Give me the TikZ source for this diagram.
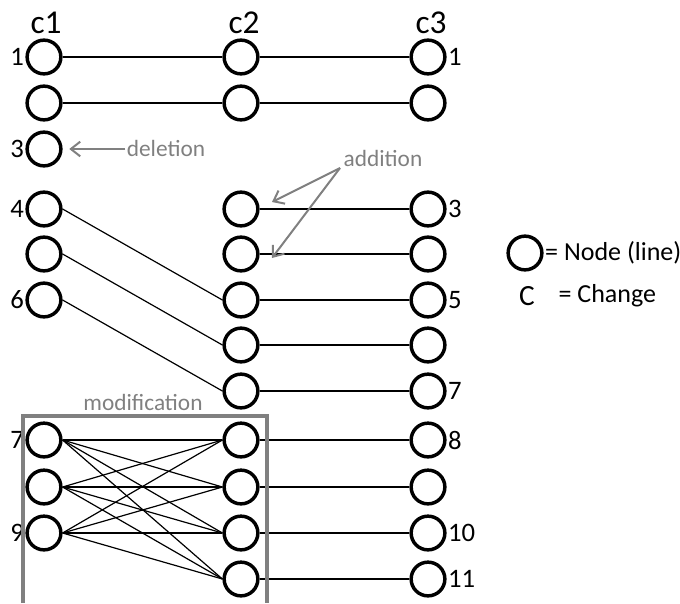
\documentclass[tikz,border=0pt]{standalone}
\usepackage{fontspec}
\setmainfont{Carlito}
\usetikzlibrary{arrows.meta}
\definecolor{mygray}{RGB}{128,128,128}
\tikzset{>={Straight Barb[length=7pt,width=11pt,line width=1.5pt]}}
\tikzset{ln/.style={draw, circle, line width=2.6pt, minimum size=25.3pt, inner sep=0pt}}
\tikzset{lab/.style={inner sep=1pt, font=\fontsize{20}{20}\selectfont}}
\tikzset{note/.style={mygray, inner sep=1pt, font=\fontsize{17.5}{17.5}\selectfont}}

\begin{document}
\begin{tikzpicture}[x=0.75pt, y=-0.75pt]
\useasboundingbox (0,0) rectangle (680,603);

% column c1
\node[ln] (a1) at (44,57) {};
\node[ln] (a2) at (44,103) {};
\node[ln] (a3) at (44,149) {};
\node[ln] (a4) at (44,209) {};
\node[ln] (a5) at (44,254) {};
\node[ln] (a6) at (44,300) {};
\node[ln] (a7) at (44,440) {};
\node[ln] (a8) at (44,487) {};
\node[ln] (a9) at (44,533) {};

% column c2
\node[ln] (b1) at (241,57) {};
\node[ln] (b2) at (241,103) {};
\node[ln] (b3) at (241,209) {};
\node[ln] (b4) at (241,254) {};
\node[ln] (b5) at (241,300) {};
\node[ln] (b6) at (241,345) {};
\node[ln] (b7) at (241,391) {};
\node[ln] (b8) at (241,440) {};
\node[ln] (b9) at (241,487) {};
\node[ln] (b10) at (241,533) {};
\node[ln] (b11) at (241,579) {};

% column c3
\node[ln] (c1) at (428,57) {};
\node[ln] (c2) at (428,103) {};
\node[ln] (c3) at (428,209) {};
\node[ln] (c4) at (428,254) {};
\node[ln] (c5) at (428,300) {};
\node[ln] (c6) at (428,345) {};
\node[ln] (c7) at (428,391) {};
\node[ln] (c8) at (428,440) {};
\node[ln] (c9) at (428,487) {};
\node[ln] (c10) at (428,533) {};
\node[ln] (c11) at (428,579) {};

% headers
\node[font=\fontsize{25}{25}\selectfont, inner sep=0pt] (h1) at (46,23) {c1};
\node[font=\fontsize{25}{25}\selectfont, inner sep=0pt] (h2) at (244,23) {c2};
\node[font=\fontsize{25}{25}\selectfont, inner sep=0pt] (h3) at (431,23) {c3};

% line numbers
\node[lab, anchor=east] (la1) at (a1.west) {1};
\node[lab, anchor=east] (la3) at (a3.west) {3};
\node[lab, anchor=east] (la4) at (a4.west) {4};
\node[lab, anchor=east] (la6) at (a6.west) {6};
\node[lab, anchor=east] (la7) at (a7.west) {7};
\node[lab, anchor=east] (la9) at (a9.west) {9};
\node[lab, anchor=west] (lc1) at (c1.east) {1};
\node[lab, anchor=west] (lc3) at (c3.east) {3};
\node[lab, anchor=west] (lc5) at (c5.east) {5};
\node[lab, anchor=west] (lc7) at (c7.east) {7};
\node[lab, anchor=west] (lc8) at (c8.east) {8};
\node[lab, anchor=west] (lc10) at (c10.east) {10};
\node[lab, anchor=west] (lc11) at (c11.east) {11};

% c1 to c2
\draw[line width=0.9pt] (a1) -- (b1);
\draw[line width=0.9pt] (a2) -- (b2);
\draw[line width=0.9pt] (a4.east) -- (b5.west);
\draw[line width=0.9pt] (a5.east) -- (b6.west);
\draw[line width=0.9pt] (a6.east) -- (b7.west);

\draw[line width=0.9pt] (a7.east) -- (b8.west);
\draw[line width=0.9pt] (a7.east) -- (b9.west);
\draw[line width=0.9pt] (a7.east) -- (b10.west);
\draw[line width=0.9pt] (a7.east) -- (b11.west);
\draw[line width=0.9pt] (a8.east) -- (b8.west);
\draw[line width=0.9pt] (a8.east) -- (b9.west);
\draw[line width=0.9pt] (a8.east) -- (b10.west);
\draw[line width=0.9pt] (a8.east) -- (b11.west);
\draw[line width=0.9pt] (a9.east) -- (b8.west);
\draw[line width=0.9pt] (a9.east) -- (b9.west);
\draw[line width=0.9pt] (a9.east) -- (b10.west);
\draw[line width=0.9pt] (a9.east) -- (b11.west);

% c2 to c3
\draw[line width=0.9pt] (b1) -- (c1);
\draw[line width=0.9pt] (b2) -- (c2);
\draw[line width=0.9pt] (b3) -- (c3);
\draw[line width=0.9pt] (b4) -- (c4);
\draw[line width=0.9pt] (b5) -- (c5);
\draw[line width=0.9pt] (b6) -- (c6);
\draw[line width=0.9pt] (b7) -- (c7);
\draw[line width=0.9pt] (b8) -- (c8);
\draw[line width=0.9pt] (b9) -- (c9);
\draw[line width=0.9pt] (b10) -- (c10);
\draw[line width=0.9pt] (b11) -- (c11);

% modification box
\draw[mygray, line width=2.4pt] (23,603) -- (23,416) -- (267,416) -- (267,603);
\node[note] (mod) at (143,402) {modification};

% deletion
\node[note] (del) at (166,148) {deletion};
\draw[->, mygray, line width=1.5pt, shorten >=5pt] (del.west |- a3) -- (a3);

% addition
\node[note] (add) at (383,158) {addition};
\coordinate (addfoot) at (340,168);
\coordinate (t3) at (272,202);
\coordinate (t4) at (272,258);
\draw[->, mygray, line width=1.5pt] (addfoot) -- (t3);
\draw[->, mygray, line width=1.5pt] (addfoot) -- (t4);

% legend
\node[ln] (key) at (525,253) {};
\node[lab, font=\fontsize{19.5}{19.5}\selectfont, anchor=west] (keytxt) at (key.east) {= Node (line)};
\node[font=\fontsize{22}{22}\selectfont, inner sep=0pt] (keyc) at (527,296) {C};
\node[lab, font=\fontsize{19.5}{19.5}\selectfont, anchor=west] (keyctxt) at (557,296) {= Change};

\end{tikzpicture}
\end{document}
